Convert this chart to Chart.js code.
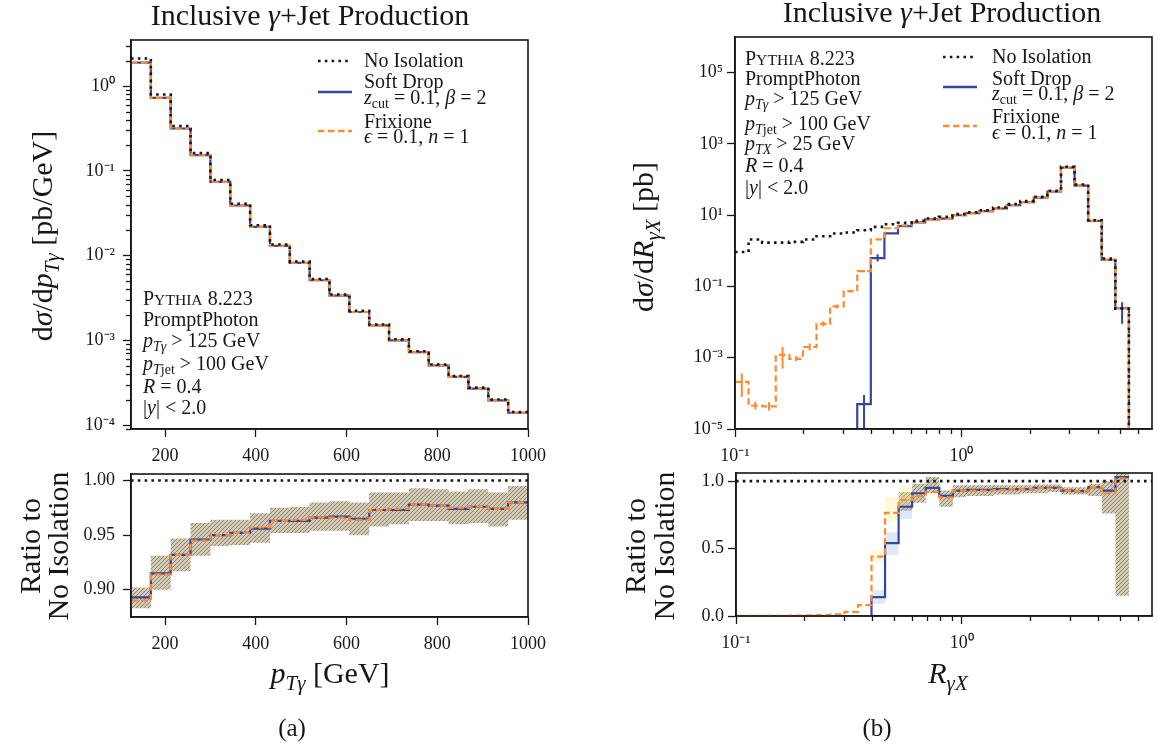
<!DOCTYPE html>
<html>
<head>
<meta charset="utf-8">
<script src="https://cdn.jsdelivr.net/npm/chart.js@4.4.1/dist/chart.umd.min.js"></script>
<style>
html, body { margin: 0; padding: 0; background: #fff; }
#wrap { position: relative; width: 1159px; height: 746px; }
canvas { position: absolute; left: 0; top: 0; }
</style>
</head>
<body>
<div id="wrap">
  <canvas id="specPt" width="1159" height="746"></canvas>
  <canvas id="ratioPt" width="1159" height="746"></canvas>
  <canvas id="specR" width="1159" height="746"></canvas>
  <canvas id="ratioR" width="1159" height="746"></canvas>
</div>
<script>
// ---- (a) photon pT spectrum, 20 bins 125..1000 GeV
var ptEdges = [125, 168.75, 212.5, 256.25, 300, 343.75, 387.5, 431.25, 475, 518.75, 562.5,
  606.25, 650, 693.75, 737.5, 781.25, 825, 868.75, 912.5, 956.25, 1000];
var ptNoIso = [2.12, 0.796, 0.339, 0.162, 0.0779, 0.041, 0.0228, 0.0135, 0.0085, 0.0053,
  0.00348, 0.00224, 0.00154, 0.00103, 0.000744, 0.000519, 0.00038, 0.000277, 0.000201, 0.000143];
var ptSoftDrop = [1.89, 0.728, 0.316, 0.153, 0.074, 0.039, 0.0218, 0.013, 0.00819, 0.00512,
  0.00337, 0.00216, 0.0015, 0.001, 0.000728, 0.000507, 0.00037, 0.00027, 0.000196, 0.00014];
var ptFrixione = [1.88, 0.727, 0.316, 0.153, 0.074, 0.039, 0.0218, 0.013, 0.00819, 0.00512,
  0.00336, 0.00216, 0.0015, 0.001, 0.000728, 0.000507, 0.00037, 0.00027, 0.000196, 0.00014];
var ptRatioSD = [0.893, 0.915, 0.932, 0.946, 0.950, 0.952, 0.956, 0.963, 0.963, 0.966,
  0.967, 0.965, 0.973, 0.973, 0.978, 0.977, 0.974, 0.976, 0.974, 0.980];
var ptRatioFrix = [0.890, 0.914, 0.932, 0.945, 0.950, 0.952, 0.957, 0.963, 0.964, 0.966,
  0.966, 0.964, 0.973, 0.974, 0.978, 0.977, 0.975, 0.976, 0.974, 0.980];
var ptBandLo = [0.883, 0.900, 0.917, 0.931, 0.940, 0.941, 0.943, 0.952, 0.952, 0.954,
  0.954, 0.950, 0.958, 0.960, 0.963, 0.963, 0.960, 0.961, 0.958, 0.964];
var ptBandHi = [0.902, 0.931, 0.947, 0.961, 0.964, 0.964, 0.970, 0.975, 0.976, 0.980,
  0.981, 0.980, 0.989, 0.989, 0.993, 0.992, 0.990, 0.992, 0.989, 0.995];
var ptTicks = [200, 400, 600, 800, 1000];
var ptRatioTicks = [0.90, 0.95, 1.00];

// ---- (b) R_gamma X spectrum, 29 log bins 0.1..5.5
var rEdges = [0.1, 0.1148, 0.1318, 0.1514, 0.1738, 0.1995, 0.2291, 0.2630, 0.3020, 0.3467,
  0.3981, 0.4571, 0.5248, 0.6026, 0.6918, 0.7943, 0.9120, 1.0471, 1.2023, 1.3804,
  1.5849, 1.8197, 2.0893, 2.3988, 2.7542, 3.1623, 3.6308, 4.1687, 4.7863, 5.4954];
var rNoIso = [0.93, 2.07, 1.70, 1.70, 1.78, 2.07, 2.57, 3.05, 3.26, 3.79,
  4.70, 5.59, 6.08, 6.92, 8.06, 8.98, 10.7, 12.1, 13.8, 16.4,
  20.4, 24.8, 32.7, 48.3, 229, 72.8, 7.24, 0.605, 0.0238];
var rSoftDrop = [0, 0, 0, 0, 0, 0, 0, 0, 0, 5e-5,
  0.62, 3.1, 4.9, 6.3, 7.66, 8.0, 9.95, 11.4, 13.0, 15.4,
  19.2, 23.3, 31.1, 45.9, 215, 67.7, 6.9, 0.56, 0.0245];
var rFrixione = [2.1e-4, 4.5e-5, 4.3e-5, 1.2e-3, 9.3e-4, 2.0e-3, 8.9e-3, 2.75e-2, 7.4e-2, 0.27,
  2.1, 4.3, 5.2, 6.2, 7.4, 7.9, 10.0, 11.3, 12.8, 15.3,
  19.2, 23.3, 31.1, 45.4, 213, 67.7, 6.8, 0.557, 0.0243];
// statistical error bars [lo, hi] where visible
var rFrixErr = [[8e-5, 3.6e-4], [3.5e-5, 5.8e-5], [3.3e-5, 5.6e-5], [5e-4, 2.0e-3], [8e-4, 1.1e-3],
  [1.6e-3, 2.5e-3], [7.5e-3, 1.05e-2], [2.4e-2, 3.1e-2], [6.8e-2, 8.0e-2], [0.25, 0.29],
  null, null, null, null, null, null, null, null, null, null,
  null, null, null, null, null, null, null, null, null];
var rSDErr = [null, null, null, null, null, null, null, null, null, [1e-12, 9e-5],
  [0.5, 0.8], null, null, null, null, null, null, null, null, null,
  null, null, null, null, null, null, null, null, [0.009, 0.036]];
var rRatioSD = [0, 0, 0, 0, 0, 0, 0, 0, 0, 0,
  0.14, 0.54, 0.81, 0.91, 0.95, 0.89, 0.93, 0.935, 0.935, 0.94,
  0.94, 0.94, 0.95, 0.95, 0.93, 0.925, 0.955, 0.93, 1.03];
var rRatioFrix = [0.002, 0.002, 0.002, 0.002, 0.003, 0.004, 0.006, 0.012, 0.03, 0.08,
  0.44, 0.765, 0.86, 0.89, 0.92, 0.88, 0.93, 0.93, 0.93, 0.935,
  0.94, 0.94, 0.95, 0.945, 0.93, 0.925, 0.955, 0.91, 1.02];
var rBandLo = [null, null, null, null, null, null, null, null, null, null,
  null, null, 0.78, 0.84, 0.91, 0.81, 0.88, 0.89, 0.89, 0.90,
  0.90, 0.91, 0.91, 0.92, 0.90, 0.90, 0.89, 0.76, 0.15];
var rBandHi = [null, null, null, null, null, null, null, null, null, null,
  null, null, 0.92, 0.98, 1.03, 0.93, 0.97, 0.97, 0.97, 0.97,
  0.97, 0.97, 0.975, 0.975, 0.955, 0.955, 0.98, 1.0, 1.07];
var rBandSDLo = [null, null, null, null, null, null, null, null, null, null,
  0.09, 0.45, 0.72, null, null, null, null, null, null, null,
  null, null, null, null, null, null, null, null, null];
var rBandSDHi = [null, null, null, null, null, null, null, null, null, null,
  0.19, 0.62, 0.86, null, null, null, null, null, null, null,
  null, null, null, null, null, null, null, null, null];
var rBandFrixLo = [null, null, null, null, null, null, null, null, null, null,
  0.40, 0.70, 0.82, null, null, null, null, null, null, null,
  null, null, null, null, null, null, null, null, null];
var rBandFrixHi = [null, null, null, null, null, null, null, null, null, null,
  0.49, 0.88, 0.96, null, null, null, null, null, null, null,
  null, null, null, null, null, null, null, null, null];
var rRatioTicks = [0, 0.5, 1.0];
var rSpecTicks = [1e-5, 1e-3, 1e-1, 1e1, 1e3, 1e5];

var FONT = '"Liberation Serif", "Times New Roman", serif';
var INK = '#161616';
var BLUE = '#3347a0';
var ORANGE = '#ff8a30';

function isMajor(v) {
  var e = Math.log10(v);
  return Math.abs(e - Math.round(e)) < 1e-6;
}
function logRange(lo, hi) {
  var out = [];
  for (var e = Math.floor(Math.log10(lo)); e <= Math.ceil(Math.log10(hi)); e++) {
    for (var m = 1; m < 10; m++) {
      var v = m * Math.pow(10, e);
      if (v >= lo * 0.999 && v <= hi * 1.001) out.push(v);
    }
  }
  return out;
}
function majorsOf(list) { return list.filter(isMajor); }
function minorsOf(list) { return list.filter(function (v) { return !isMajor(v); }); }
function sup(n) {
  var map = { '-': '\u207B', '0': '\u2070', '1': '\u00B9', '2': '\u00B2', '3': '\u00B3',
    '4': '\u2074', '5': '\u2075', '6': '\u2076' };
  return String(n).split('').map(function (c) { return map[c]; }).join('');
}
function logLabel(v) {
  return isMajor(v) ? '10' + sup(Math.round(Math.log10(v))) : '';
}

// histogram outline: two points per bin, vertical joins come for free
function hist(edges, vals, floor, dropEnd) {
  var pts = [];
  vals.forEach(function (v, i) {
    if (v === null) { pts.push({ x: edges[i], y: null }); return; }
    var y = (floor && v <= 0) ? floor : v;
    pts.push({ x: edges[i], y: y });
    pts.push({ x: edges[i + 1], y: y });
  });
  if (dropEnd) pts.push({ x: edges[edges.length - 1], y: floor });
  return pts;
}
// vertical error bars at log bin centres
function errBars(edges, errs) {
  var pts = [];
  errs.forEach(function (e, i) {
    if (!e) return;
    var xc = Math.sqrt(edges[i] * edges[i + 1]);
    pts.push({ x: xc, y: e[0] }, { x: xc, y: e[1] }, { x: xc, y: null });
  });
  return pts;
}

function hatch(bg, fg) {
  var c = document.createElement('canvas');
  c.width = 4; c.height = 4;
  var x = c.getContext('2d');
  x.fillStyle = bg; x.fillRect(0, 0, 4, 4);
  x.strokeStyle = fg; x.lineWidth = 1;
  x.beginPath(); x.moveTo(0, 4); x.lineTo(4, 0); x.stroke();
  x.beginPath(); x.moveTo(-1, 1); x.lineTo(1, -1); x.stroke();
  x.beginPath(); x.moveTo(3, 5); x.lineTo(5, 3); x.stroke();
  return x.createPattern(c, 'repeat');
}
var GRAYBAND = hatch('#d3cbb6', '#8c836c');

function lineDs(data, kind, order) {
  var ds = { data: data, pointRadius: 0, borderWidth: 2.2, fill: false, tension: 0, order: order };
  if (kind === 'noiso') { ds.borderColor = INK; ds.borderWidth = 2.6; ds.borderDash = [2.6, 4.2]; }
  if (kind === 'sd') { ds.borderColor = BLUE; }
  if (kind === 'frix') { ds.borderColor = ORANGE; ds.borderDash = [6.5, 3.5]; }
  return ds;
}
function errDs(data, color, order) {
  return { data: data, pointRadius: 0, borderWidth: 2, borderColor: color, fill: false, order: order };
}
function bandDs(edges, lo, hi, color) {
  return [
    { data: hist(edges, hi), fill: '+1', backgroundColor: color, borderWidth: 0, pointRadius: 0, order: 10 },
    { data: hist(edges, lo), fill: false, borderWidth: 0, pointRadius: 0, order: 10 }
  ];
}

// ---- rich text (italics, subscripts, small caps) drawn on the canvas
function drawRich(ctx, it) {
  var base = it.size || 20;
  ctx.save();
  ctx.translate(it.x, it.y);
  if (it.rot) ctx.rotate(it.rot);
  ctx.fillStyle = INK;
  ctx.textBaseline = 'alphabetic';
  var segs = it.parts.map(function (p) {
    var s = p[1] || '';
    var size = base, dy = 0, style = '';
    if (s.indexOf('i') >= 0) style = 'italic ';
    if (s.indexOf('s') >= 0) { size = base * 0.7; dy = base * 0.22; }
    if (s.indexOf('c') >= 0) size = base * 0.78;
    var font = style + size.toFixed(1) + 'px ' + FONT;
    ctx.font = font;
    return { t: p[0], font: font, dy: dy, w: ctx.measureText(p[0]).width };
  });
  var total = segs.reduce(function (a, s) { return a + s.w; }, 0);
  var x = it.align === 'center' ? -total / 2 : 0;
  segs.forEach(function (s) { ctx.font = s.font; ctx.fillText(s.t, x, s.dy); x += s.w; });
  ctx.restore();
}
function drawSample(ctx, it) {
  ctx.save();
  ctx.strokeStyle = it.color; ctx.lineWidth = it.width; ctx.setLineDash(it.dash || []);
  ctx.beginPath(); ctx.moveTo(it.line[0], it.line[2]); ctx.lineTo(it.line[1], it.line[2]); ctx.stroke();
  ctx.restore();
}
var textPlugin = {
  id: 'richText',
  afterDraw: function (chart, args, opts) {
    var ctx = chart.ctx;
    (opts.items || []).forEach(function (it) {
      if (it.line) drawSample(ctx, it); else drawRich(ctx, it);
    });
  }
};
// closed frame plus short minor ticks, placed through the chart's own scales
var framePlugin = {
  id: 'frame',
  afterDatasetsDraw: function (chart, args, opts) {
    var a = chart.chartArea, ctx = chart.ctx;
    ctx.save();
    ctx.setLineDash([]);
    ctx.strokeStyle = INK; ctx.lineWidth = 1.6;
    ctx.strokeRect(a.left, a.top, a.right - a.left, a.bottom - a.top);
    ctx.lineWidth = 1.3;
    (opts.minorX || []).forEach(function (v) {
      var p = Math.round(chart.scales.x.getPixelForValue(v)) + 0.5;
      ctx.beginPath(); ctx.moveTo(p, a.bottom); ctx.lineTo(p, a.bottom + 5); ctx.stroke();
    });
    (opts.minorY || []).forEach(function (v) {
      var p = Math.round(chart.scales.y.getPixelForValue(v)) + 0.5;
      ctx.beginPath(); ctx.moveTo(a.left - 5, p); ctx.lineTo(a.left, p); ctx.stroke();
    });
    ctx.restore();
  }
};

function axis(type, min, max, tickVals, label, pos, extra) {
  var o = {
    type: type, min: min, max: max, bounds: 'data', position: pos,
    afterBuildTicks: function (s) { s.ticks = tickVals.map(function (v) { return { value: v }; }); },
    grid: { drawOnChartArea: false, drawTicks: true, tickLength: 8, tickWidth: 1.3, tickColor: INK },
    border: { display: true, color: INK, width: 1.6 },
    ticks: {
      autoSkip: false, maxRotation: 0, minRotation: 0, color: INK, padding: 8,
      font: { family: FONT, size: 18 }, callback: label
    }
  };
  if (pos === 'left') o.afterFit = function (s) { s.width = 70; };
  else o.afterFit = function (s) { s.height = 50; };
  if (extra) Object.assign(o.ticks, extra);
  return o;
}

function makeChart(id, area, xs, ys, datasets, items, minor) {
  return new Chart(document.getElementById(id), {
    type: 'line',
    data: { datasets: datasets },
    options: {
      responsive: false, animation: false, devicePixelRatio: 1, events: [],
      layout: { padding: { left: area.l - 70, right: 1159 - area.r, top: area.t, bottom: 746 - area.b - 50 } },
      plugins: {
        legend: { display: false }, tooltip: { enabled: false },
        richText: { items: items },
        frame: { minorX: minor.x || [], minorY: minor.y || [] }
      },
      scales: { x: xs, y: ys }
    },
    plugins: [textPlugin, framePlugin]
  });
}

function legendItems(x0, sx, rows) {
  return [
    { line: [sx, sx + 34, rows[0]], color: INK, width: 2.6, dash: [2.6, 4.2] },
    { x: x0, y: rows[0] + 6, parts: [['No Isolation']] },
    { line: [sx, sx + 34, rows[1]], color: BLUE, width: 2.4 },
    { x: x0, y: rows[2], parts: [['Soft Drop']] },
    { x: x0, y: rows[3], parts: [['z', 'i'], ['cut', 's'], [' = 0.1, '], ['\u03B2', 'i'], [' = 2']] },
    { line: [sx, sx + 34, rows[4]], color: ORANGE, width: 2.4, dash: [6.5, 3.5] },
    { x: x0, y: rows[5], parts: [['Frixione']] },
    { x: x0, y: rows[6], parts: [['\u03F5', 'i'], [' = 0.1, '], ['n', 'i'], [' = 1']] }
  ];
}
function pythiaItems(x, ys, withX) {
  var lines = [
    [['P'], ['YTHIA', 'c'], [' 8.223']],
    [['PromptPhoton']],
    [['p', 'i'], ['T\u03B3', 'is'], [' > 125 GeV']],
    [['p', 'i'], ['T', 'is'], ['jet', 's'], [' > 100 GeV']]
  ];
  if (withX) lines.push([['p', 'i'], ['TX', 'is'], [' > 25 GeV']]);
  lines.push([['R', 'i'], [' = 0.4']]);
  lines.push([['|'], ['y', 'i'], ['| < 2.0']]);
  return lines.map(function (p, i) { return { x: x, y: ys[i], parts: p }; });
}

var ROT = -Math.PI / 2;
var ptLogTicks = logRange(9e-5, 3.5);
var rLogTicks = logRange(0.1, 6.95);

// ---- (a) top
makeChart('specPt', { l: 131, r: 528, t: 40, b: 429 },
  axis('linear', 125, 1000, ptTicks, function (v) { return String(v); }, 'bottom'),
  axis('logarithmic', 9e-5, 3.5, majorsOf(ptLogTicks), logLabel, 'left', { padding: 8 }),
  [
    lineDs(hist(ptEdges, ptNoIso), 'noiso', 1),
    lineDs(hist(ptEdges, ptFrixione), 'frix', 2),
    lineDs(hist(ptEdges, ptSoftDrop), 'sd', 3)
  ],
  [
    { x: 310, y: 25, size: 30, align: 'center', parts: [['Inclusive '], ['\u03B3', 'i'], ['+Jet Production']] },
    { x: 52, y: 236, size: 30, rot: ROT, align: 'center',
      parts: [['d'], ['\u03C3', 'i'], ['/d'], ['p', 'i'], ['T\u03B3', 'is'], [' [pb/GeV]']] }
  ].concat(pythiaItems(143, [305, 326, 347, 370, 393, 414], false))
   .concat(legendItems(364, 318, [61, 92, 88, 104, 131, 128, 143])),
  { y: minorsOf(ptLogTicks) }
);

// ---- (a) ratio
makeChart('ratioPt', { l: 131, r: 528, t: 474, b: 617 },
  axis('linear', 125, 1000, ptTicks, function (v) { return String(v); }, 'bottom'),
  axis('linear', 0.875, 1.006, ptRatioTicks, function (v) { return v.toFixed(2); }, 'left'),
  [
    lineDs([{ x: 125, y: 1 }, { x: 1000, y: 1 }], 'noiso', 1),
    lineDs(hist(ptEdges, ptRatioFrix), 'frix', 2),
    lineDs(hist(ptEdges, ptRatioSD), 'sd', 3)
  ].concat(bandDs(ptEdges, ptBandLo, ptBandHi, GRAYBAND)),
  [
    { x: 40, y: 546, size: 30, rot: ROT, align: 'center', parts: [['Ratio to']] },
    { x: 68, y: 546, size: 30, rot: ROT, align: 'center', parts: [['No Isolation']] },
    { x: 330, y: 683, size: 30, align: 'center', parts: [['p', 'i'], ['T\u03B3', 'is'], [' [GeV]']] },
    { x: 292, y: 736, size: 25, align: 'center', parts: [['(a)']] }
  ],
  {}
);

// ---- (b) top
makeChart('specR', { l: 735, r: 1152, t: 37, b: 429 },
  axis('logarithmic', 0.1, 6.95, majorsOf(rLogTicks), logLabel, 'bottom'),
  axis('logarithmic', 1e-5, 1e6, rSpecTicks, logLabel, 'left', { padding: 4 }),
  [
    lineDs(hist(rEdges, rNoIso, 1e-12, true), 'noiso', 1),
    lineDs(hist(rEdges, rFrixione, 1e-12, true), 'frix', 2),
    lineDs(hist(rEdges, rSoftDrop, 1e-12, true), 'sd', 3),
    errDs(errBars(rEdges, rFrixErr), ORANGE, 2),
    errDs(errBars(rEdges, rSDErr), BLUE, 3)
  ],
  [
    { x: 942, y: 22, size: 30, align: 'center', parts: [['Inclusive '], ['\u03B3', 'i'], ['+Jet Production']] },
    { x: 653, y: 237, size: 30, rot: ROT, align: 'center',
      parts: [['d'], ['\u03C3', 'i'], ['/d'], ['R', 'i'], ['\u03B3X', 'is'], [' [pb]']] }
  ].concat(pythiaItems(745, [65, 85, 105, 130, 150, 172, 194], true))
   .concat(legendItems(992, 943, [57, 87, 85, 100, 126, 123, 139])),
  { x: minorsOf(rLogTicks) }
);

// ---- (b) ratio
makeChart('ratioR', { l: 736, r: 1152, t: 473, b: 616 },
  axis('logarithmic', 0.1, 6.95, majorsOf(rLogTicks), logLabel, 'bottom'),
  axis('linear', 0, 1.06, rRatioTicks, function (v) { return v.toFixed(1); }, 'left', { padding: 4 }),
  [
    lineDs([{ x: 0.1, y: 1 }, { x: 6.95, y: 1 }], 'noiso', 1),
    lineDs(hist(rEdges, rRatioFrix), 'frix', 2),
    lineDs(hist(rEdges, rRatioSD), 'sd', 3)
  ].concat(bandDs(rEdges, rBandFrixLo, rBandFrixHi, 'rgba(255,232,130,0.3)'))
   .concat(bandDs(rEdges, rBandSDLo, rBandSDHi, 'rgba(140,175,235,0.28)'))
   .concat(bandDs(rEdges, rBandLo, rBandHi, GRAYBAND)),
  [
    { x: 645, y: 546, size: 30, rot: ROT, align: 'center', parts: [['Ratio to']] },
    { x: 674, y: 546, size: 30, rot: ROT, align: 'center', parts: [['No Isolation']] },
    { x: 948, y: 683, size: 30, align: 'center', parts: [['R', 'i'], ['\u03B3X', 'is']] },
    { x: 877, y: 736, size: 25, align: 'center', parts: [['(b)']] }
  ],
  { x: minorsOf(rLogTicks) }
);
</script>
</body>
</html>
